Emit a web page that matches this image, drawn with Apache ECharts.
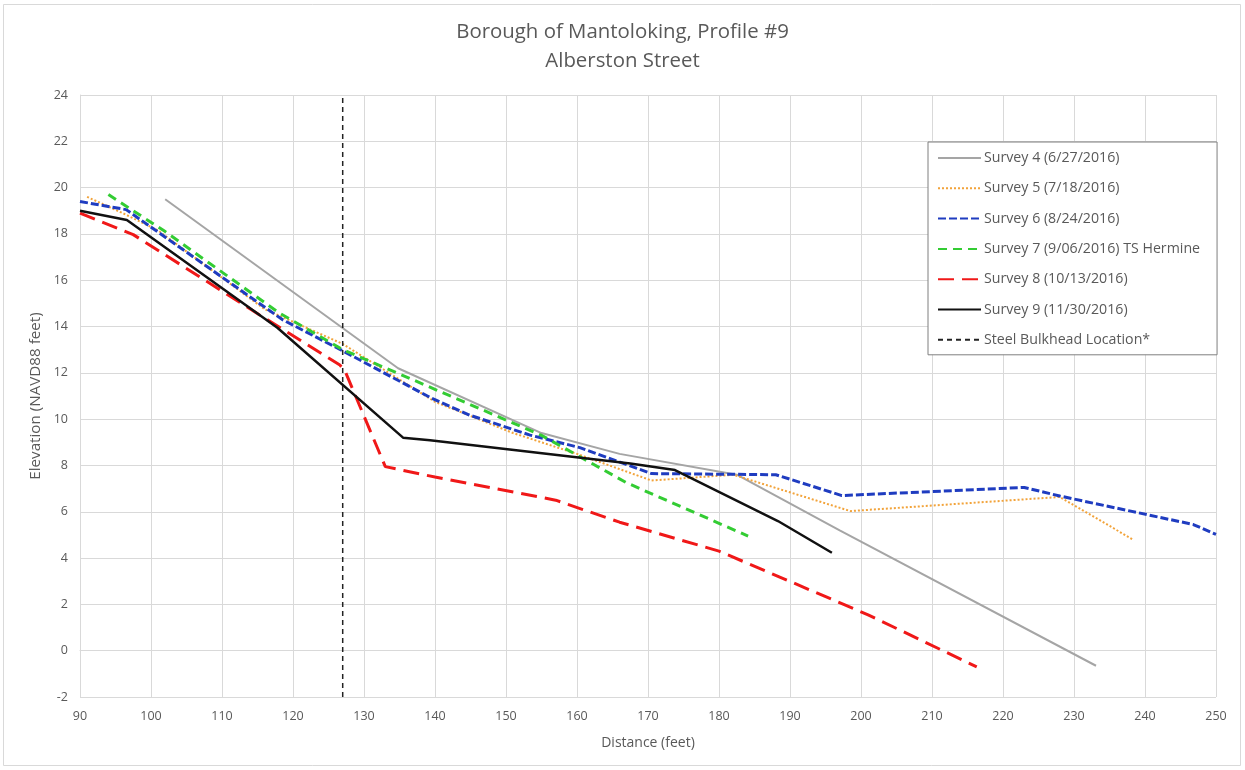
<!DOCTYPE html>
<html>
<head>
<meta charset="utf-8">
<script src="https://cdn.jsdelivr.net/npm/echarts@6/dist/echarts.min.js"></script>
<style>
  html, body { margin: 0; padding: 0; background: #fff; }
  #chart { width: 1245px; height: 770px; }
</style>
</head>
<body>
<div id="chart"></div>
<script>
// Beach profile surveys: [distance (ft), elevation (ft NAVD88)]
const survey4 = [[102, 19.5], [134.8, 12.2], [155, 9.4], [166, 8.5], [182.5, 7.6], [197, 5.2], [233.1, -0.65]];
const survey5 = [[91, 19.6], [96, 18.9], [101, 18.15], [116, 14.75], [127, 13.25], [140, 10.75], [151, 9.4], [160, 8.5], [170.5, 7.35], [182, 7.6], [198.5, 6.03], [228, 6.64], [238.3, 4.8]];
const survey6 = [[90, 19.4], [96.5, 19.05], [118.5, 14.3], [127, 12.95], [139.3, 10.94], [144.9, 10.17], [153.4, 9.31], [160.4, 8.77], [170.5, 7.65], [188, 7.6], [197.3, 6.7], [223, 7.05], [228, 6.68], [246.8, 5.45], [250, 5.02]];
const survey7 = [[94, 19.7], [102, 18.1], [118, 14.6], [127, 13.0], [135, 11.95], [155, 9.3], [167, 7.25], [184.1, 4.95]];
const survey8 = [[90, 18.9], [97.5, 17.97], [115.3, 14.5], [126.6, 12.34], [127.3, 12.1], [133, 7.95], [140, 7.5], [157, 6.5], [166, 5.55], [180, 4.3], [201, 1.55], [216.3, -0.7]];
const survey9 = [[90, 19.0], [96.6, 18.6], [117.8, 13.95], [135.5, 9.2], [139.3, 9.09], [167.5, 8.08], [173.8, 7.8], [188.3, 5.6], [195.9, 4.23]];
const bulkheadX = 127;

const seriesNames = [
  'Survey 4 (6/27/2016)',
  'Survey 5 (7/18/2016)',
  'Survey 6 (8/24/2016)',
  'Survey 7 (9/06/2016) TS Hermine',
  'Survey 8 (10/13/2016)',
  'Survey 9 (11/30/2016)',
  'Steel Bulkhead Location*'
];

const xMin = 90, xMax = 250, xStep = 10;
const yMin = -2, yMax = 24, yStep = 2;

const textColor = '#595959';
const gridColor = '#d9d9d9';
const font = '"Open Sans", "Liberation Sans", Arial, sans-serif';

function lineSeries(name, data, color, width, dash) {
  return {
    name: name,
    type: 'line',
    data: data,
    showSymbol: false,
    symbol: 'none',
    animation: false,
    lineStyle: { color: color, width: width, type: dash, cap: 'butt' },
    itemStyle: { color: color }
  };
}

const chart = echarts.init(document.getElementById('chart'), null, { renderer: 'canvas' });

chart.setOption({
  backgroundColor: '#fff',
  animation: false,
  title: {
    text: 'Borough of Mantoloking, Profile #9\nAlberston Street',
    left: 'center',
    top: 13,
    textStyle: { color: textColor, fontSize: 20.4, fontWeight: 'normal', fontFamily: font, lineHeight: 29 }
  },
  graphic: [{
    type: 'rect',
    shape: { x: 3.5, y: 4.5, width: 1237, height: 761 },
    style: { fill: 'none', stroke: '#d9d9d9', lineWidth: 1 },
    silent: true,
    z: -1
  }],
  grid: { left: 80, right: 29, top: 95, bottom: 73, containLabel: false },
  legend: {
    orient: 'vertical',
    left: 928,
    top: 142,
    padding: [9, 17, 8, 9],
    itemWidth: 43,
    itemHeight: 14,
    itemGap: 16.3,
    backgroundColor: '#fff',
    borderColor: '#7f7f7f',
    borderWidth: 1,
    itemStyle: { opacity: 0 },
    textStyle: { color: textColor, fontSize: 14.2, fontFamily: font, padding: [0, 0, 0, -2] },
    data: seriesNames
  },
  xAxis: {
    type: 'value',
    min: xMin, max: xMax, interval: xStep,
    name: 'Distance (feet)',
    nameLocation: 'middle',
    nameGap: 39,
    nameTextStyle: { color: textColor, fontSize: 14, fontFamily: font },
    axisLine: { show: true, lineStyle: { color: gridColor } },
    axisTick: { show: false },
    axisLabel: { color: textColor, fontSize: 12.5, fontFamily: font, margin: 13 },
    splitLine: { show: true, lineStyle: { color: gridColor, width: 1 } }
  },
  yAxis: {
    type: 'value',
    min: yMin, max: yMax, interval: yStep,
    name: 'Elevation (NAVD88 feet)',
    nameLocation: 'middle',
    nameGap: 33,
    nameTextStyle: { color: textColor, fontSize: 15.2, fontFamily: font },
    axisLine: { show: true, lineStyle: { color: gridColor } },
    axisTick: { show: false },
    axisLabel: { color: textColor, fontSize: 12.5, fontFamily: font, margin: 12 },
    splitLine: { show: true, lineStyle: { color: gridColor, width: 1 } }
  },
  series: [
    lineSeries(seriesNames[0], survey4, '#a5a5a5', 2, 'solid'),
    lineSeries(seriesNames[1], survey5, '#f2a33a', 2, [2, 2]),
    lineSeries(seriesNames[2], survey6, '#1f3cc0', 3, [8, 3]),
    lineSeries(seriesNames[3], survey7, '#33cc33', 3, [9, 6]),
    lineSeries(seriesNames[4], survey8, '#f01818', 3, [16, 8]),
    lineSeries(seriesNames[5], survey9, '#111111', 2.5, 'solid'),
    lineSeries(seriesNames[6], [[bulkheadX, yMin], [bulkheadX, yMax]], '#222222', 1.5, [5, 4])
  ]
});
</script>
</body>
</html>
